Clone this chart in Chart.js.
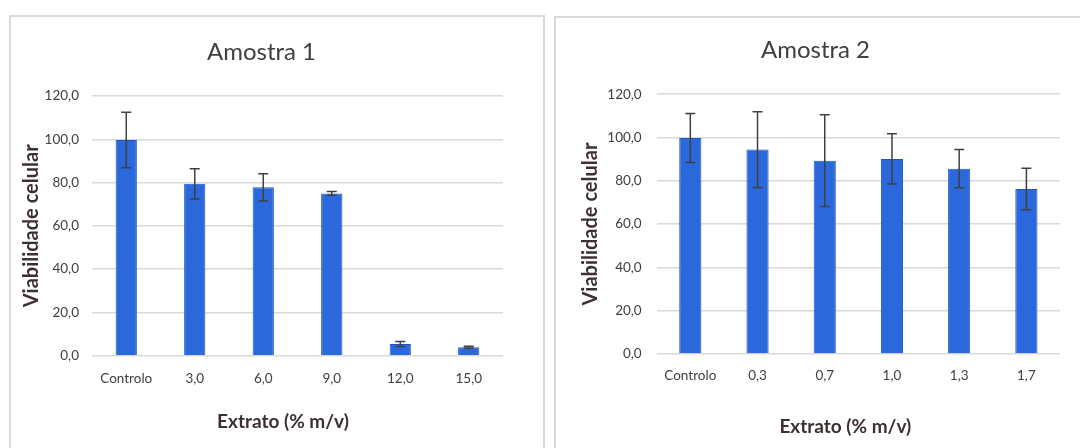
<!DOCTYPE html>
<html>
<head>
<meta charset="utf-8">
<script src="https://cdn.jsdelivr.net/npm/chart.js@4/dist/chart.umd.min.js"></script>
<style>
  html, body { margin: 0; padding: 0; background: #ffffff; width: 1080px; height: 448px; overflow: hidden; }
  .panel { position: absolute; border: 2px solid #d9d9d9; box-sizing: border-box; background: #fff; }
  .wrap { position: absolute; top: 0; height: 448px; }
  canvas { display: block; }
</style>
</head>
<body>
<div class="panel" style="left:9px; top:15px; width:536px; height:460px;"></div>
<div class="panel" style="left:554px; top:16px; width:540px; height:460px;"></div>
<div class="wrap" style="left:0px; width:545px;"><canvas id="c1" width="545" height="448"></canvas></div>
<div class="wrap" style="left:545px; width:535px;"><canvas id="c2" width="535" height="448"></canvas></div>
<script>
// ---- Data ----
const categories1 = ['Controlo', '3,0', '6,0', '9,0', '12,0', '15,0'];
const values1 = [99.7, 79.4, 77.8, 75.0, 5.4, 3.9];
const errors1 = [12.8, 7.0, 6.3, 0.9, 1.2, 0.5];

const categories2 = ['Controlo', '0,3', '0,7', '1,0', '1,3', '1,7'];
const values2 = [99.8, 94.4, 89.3, 90.1, 85.6, 76.2];
const errors2 = [11.3, 17.5, 21.2, 11.6, 8.8, 9.6];

const yTickLabels = ['0,0', '20,0', '40,0', '60,0', '80,0', '100,0', '120,0'];

const titles = ['Amostra 1', 'Amostra 2'];
const yTitle = 'Viabilidade celular';
const xTitle = 'Extrato (% m/v)';

// ---- Plugins ----
const errorBarPlugin = {
  id: 'errorBars',
  afterDatasetsDraw(chart, args, opts) {
    const {ctx} = chart;
    const yScale = chart.scales.y;
    const meta = chart.getDatasetMeta(0);
    const vals = chart.data.datasets[0].data;
    const errs = opts.errors || [];
    ctx.save();
    ctx.strokeStyle = '#404040';
    ctx.lineWidth = 1.5;
    meta.data.forEach((bar, i) => {
      const e = errs[i];
      if (e == null) return;
      const x = bar.x;
      const yTop = yScale.getPixelForValue(vals[i] + e);
      const yBot = yScale.getPixelForValue(vals[i] - e);
      const cap = 5;
      ctx.beginPath();
      ctx.moveTo(x, yTop); ctx.lineTo(x, yBot);
      ctx.moveTo(x - cap, yTop); ctx.lineTo(x + cap, yTop);
      ctx.moveTo(x - cap, yBot); ctx.lineTo(x + cap, yBot);
      ctx.stroke();
    });
    ctx.restore();
  }
};

const xTitlePlugin = {
  id: 'xTitleText',
  afterDraw(chart, args, opts) {
    const {ctx, chartArea} = chart;
    ctx.save();
    ctx.font = 'bold 19px Lato';
    ctx.fillStyle = '#3c3030';
    ctx.textAlign = 'center';
    ctx.textBaseline = 'middle';
    ctx.fillText(opts.text, (chartArea.left + chartArea.right) / 2 + (opts.shift || 0), opts.y);
    ctx.restore();
  }
};

function makeChart(id, cats, vals, errs, title, cfg) {
  return new Chart(document.getElementById(id), {
    type: 'bar',
    data: {
      labels: cats,
      datasets: [{
        data: vals,
        backgroundColor: '#2a68db',
        borderColor: '#1f55c4',
        borderWidth: 1,
        categoryPercentage: 1.0,
        barPercentage: cfg.barPct
      }]
    },
    options: {
      responsive: false,
      animation: false,
      events: [],
      layout: { padding: { left: cfg.padL, right: cfg.padR, top: 0, bottom: 0 } },
      plugins: {
        legend: { display: false },
        tooltip: { enabled: false },
        title: {
          display: true,
          text: title,
          color: '#404040',
          font: { family: 'Lato', size: 24, weight: 'normal', lineHeight: 1.2 },
          padding: { top: cfg.titleTop, bottom: cfg.titleBottom }
        },
        errorBars: { errors: errs },
        xTitleText: { text: xTitle, y: cfg.xTitleY, shift: cfg.xTitleShift }
      },
      scales: {
        x: {
          grid: { display: false, drawTicks: false },
          border: { display: false },
          ticks: { color: '#404040', font: { family: 'Lato', size: 13.5 }, padding: cfg.xTickPad, maxRotation: 0, autoSkip: false },
          afterFit: (s) => { s.height = cfg.xAxisH; }
        },
        y: {
          min: 0, max: 120,
          ticks: {
            stepSize: 20,
            color: '#404040',
            font: { family: 'Lato', size: 13.5 },
            padding: cfg.yTickPad,
            callback: (v, i) => yTickLabels[i]
          },
          grid: { color: '#d9d9d9', lineWidth: 1.5, drawTicks: false },
          border: { display: false },
          title: {
            display: true,
            text: yTitle,
            color: '#3c3030',
            font: { family: 'Lato', size: 20, weight: 'bold', lineHeight: 1.2 },
            padding: { top: cfg.yTitlePad, bottom: 0 }
          },
          afterFit: (s) => { s.width = cfg.yAxisW; }
        }
      }
    },
    plugins: [errorBarPlugin, xTitlePlugin]
  });
}

makeChart('c1', categories1, values1, errors1, titles[0], {
  barPct: 0.31, padL: 20, padR: 42, yAxisW: 72, yTickPad: 13, yTitlePad: 0,
  titleTop: 37.6, titleBottom: 29.6, xAxisH: 92.3, xTickPad: 15.2,
  xTitleY: 421.7, xTitleShift: -14.5
});

makeChart('c2', categories2, values2, errors2, titles[1], {
  barPct: 0.33, padL: 26, padR: 20, yAxisW: 85.7, yTickPad: 15, yTitlePad: 8,
  titleTop: 36.2, titleBottom: 29.2, xAxisH: 94, xTickPad: 14,
  xTitleY: 426.7, xTitleShift: -13
});
</script>
</body>
</html>
